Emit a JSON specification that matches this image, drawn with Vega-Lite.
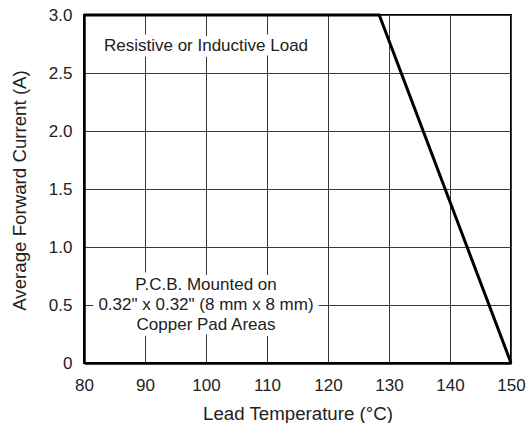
{
  "$schema": "https://vega.github.io/schema/vega-lite/v6.json",
  "width": 427,
  "height": 348,
  "autosize": {"type": "none"},
  "padding": {"left": 84, "top": 15, "right": 16, "bottom": 60},
  "background": "white",
  "config": {
    "view": {"stroke": "black", "strokeWidth": 2},
    "font": "Liberation Sans",
    "axis": {
      "labelFont": "Liberation Sans",
      "titleFont": "Liberation Sans",
      "labelColor": "#222",
      "titleColor": "#222",
      "labelFontSize": 17,
      "titleFontSize": 18.7,
      "titleFontWeight": "normal",
      "labelFlush": false,
      "ticks": false,
      "grid": true,
      "gridColor": "#3a3a3a",
      "gridWidth": 1,
      "gridOpacity": 1,
      "domainColor": "black",
      "domainWidth": 2.5
    }
  },
  "datasets": {
    "curve": [
      {"temp": 80, "current": 3.0},
      {"temp": 128.4, "current": 3.0},
      {"temp": 150, "current": 0}
    ],
    "notes": [
      {"temp": 100, "current": 2.69, "label": "Resistive or Inductive Load"},
      {"temp": 100, "current": 0.629, "label": "P.C.B. Mounted on"},
      {"temp": 100, "current": 0.457, "label": "0.32\" x 0.32\" (8 mm x 8 mm)"},
      {"temp": 100, "current": 0.284, "label": "Copper Pad Areas"}
    ]
  },
  "layer": [
    {
      "data": {"name": "curve"},
      "mark": {"type": "line", "color": "black", "strokeWidth": 3, "clip": false},
      "encoding": {
        "x": {
          "field": "temp",
          "type": "quantitative",
          "scale": {"domain": [80, 150], "nice": false, "zero": false},
          "axis": {
            "values": [80, 90, 100, 110, 120, 130, 140, 150],
            "title": "Lead Temperature (°C)",
            "labelBaseline": "alphabetic",
            "labelPadding": 27,
            "titleY": 56,
            "titleBaseline": "alphabetic"
          }
        },
        "y": {
          "field": "current",
          "type": "quantitative",
          "scale": {"domain": [0, 3], "nice": false},
          "axis": {
            "values": [0, 0.5, 1, 1.5, 2, 2.5, 3],
            "labelExpr": "datum.value == 0 ? '0' : format(datum.value, '.1f')",
            "title": "Average Forward Current (A)",
            "labelPadding": 12,
            "titleX": -59,
            "titleY": 175,
            "titleAngle": -90,
            "titleAlign": "center",
            "titleBaseline": "alphabetic"
          }
        }
      }
    },
    {
      "data": {"name": "notes"},
      "mark": {"type": "text", "font": "Liberation Sans", "fontSize": 17, "align": "center", "baseline": "alphabetic", "stroke": "white", "strokeWidth": 12, "strokeJoin": "round", "fill": "white"},
      "encoding": {
        "x": {"field": "temp", "type": "quantitative"},
        "y": {"field": "current", "type": "quantitative"},
        "text": {"field": "label"}
      }
    },
    {
      "data": {"name": "notes"},
      "mark": {"type": "text", "font": "Liberation Sans", "fontSize": 17, "align": "center", "baseline": "alphabetic", "color": "#222"},
      "encoding": {
        "x": {"field": "temp", "type": "quantitative"},
        "y": {"field": "current", "type": "quantitative"},
        "text": {"field": "label"}
      }
    }
  ]
}
